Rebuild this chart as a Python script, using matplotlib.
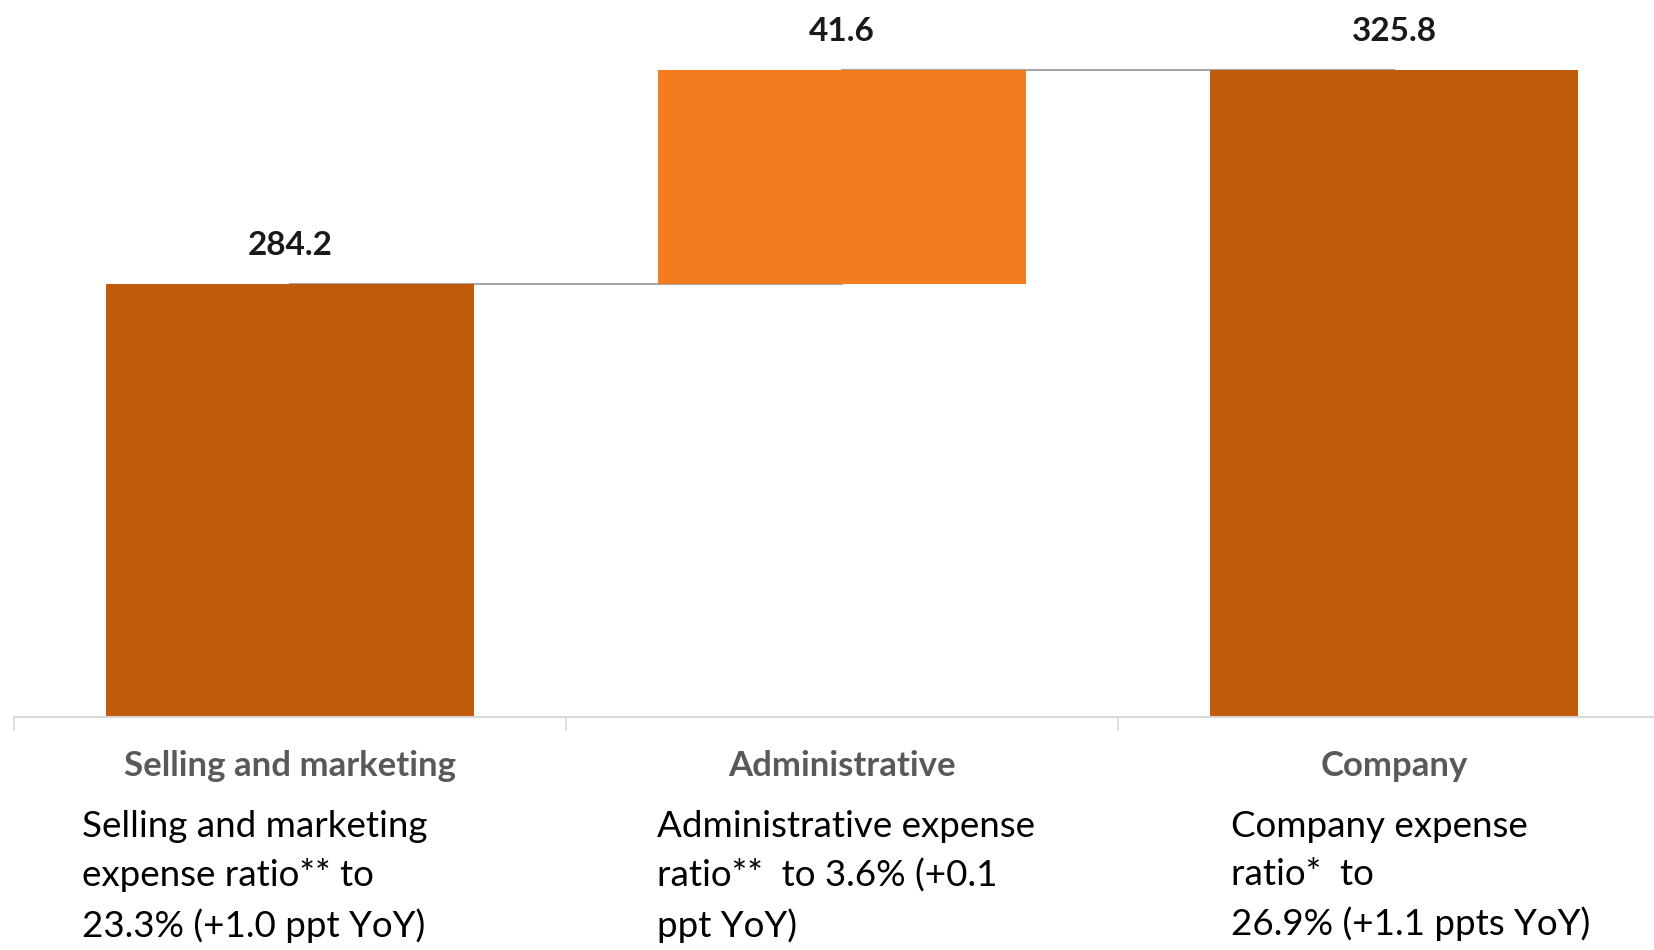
import numpy as np
import matplotlib.pyplot as plt

# Waterfall data
categories = ['Selling and marketing', 'Administrative', 'Company']
values = [284.2, 41.6, 325.8]
is_total = [True, False, True]
value_labels = ['284.2', '41.6', '325.8']
notes = [
    'Selling and marketing\nexpense ratio** to\n23.3% (+1.0 ppt YoY)',
    'Administrative expense\nratio**  to 3.6% (+0.1\nppt YoY)',
    'Company expense\nratio*  to\n26.9% (+1.1 ppts YoY)',
]

dark = '#C05B0C'
light = '#F47C20'


def main():
    fig = plt.figure(figsize=(16.54, 9.5), dpi=100)
    # axes runs a bit past the right edge like the original slide
    ax = fig.add_axes([14 / 1654, 233 / 950, 1656 / 1654, 717 / 950])

    x = np.arange(len(categories))
    bottoms = []
    tops = []
    running = 0.0
    for v, tot in zip(values, is_total):
        if tot:
            bottoms.append(0.0)
            running = v
        else:
            bottoms.append(running)
            running += v
        tops.append(running)

    ymin = 200.0
    heights = [t - max(b, ymin) for b, t in zip(bottoms, tops)]
    base = [max(b, ymin) for b in bottoms]
    colors = [dark if t else light for t in is_total]

    # connector lines between bars
    for i in range(len(x) - 1):
        ax.plot([x[i], x[i + 1]], [tops[i], tops[i]], color='#A6A6A6', lw=1.5, zorder=1)

    ax.bar(x, heights, bottom=base, width=0.665, color=colors, zorder=2)

    for xi, t, lab in zip(x, tops, value_labels):
        ax.annotate(lab, (xi, t), xytext=(0, 28), textcoords='offset points',
                    ha='center', va='center', fontsize=24, fontweight='bold',
                    family='Lato', color='#1A1A1A')

    ax.set_xlim(-0.5, 2.5)
    ax.set_ylim(ymin, ymin + 717 / 5.143)

    for s in ['top', 'right', 'left']:
        ax.spines[s].set_visible(False)
    ax.spines['bottom'].set_color('#D9D9D9')
    ax.spines['bottom'].set_linewidth(1.5)
    ax.set_yticks([])

    ax.set_xticks(x)
    ax.set_xticklabels(categories, fontsize=25, fontweight='bold', color='#595959', family='Lato')
    ax.tick_params(axis='x', which='major', length=0, pad=24)
    ax.set_xticks([-0.5, 0.5, 1.5], minor=True)
    ax.tick_params(axis='x', which='minor', length=10, width=1.2, color='#D9D9D9')

    note_x = [82, 657, 1231]
    for nx, txt in zip(note_x, notes):
        fig.text(nx / 1654, 1 - 810 / 950, txt, ha='left', va='top', fontsize=26.5,
                 family='Lato', color='black', linespacing=1.55)

    fig.savefig('out.png', dpi=100)


if __name__ == "__main__":
    main()
